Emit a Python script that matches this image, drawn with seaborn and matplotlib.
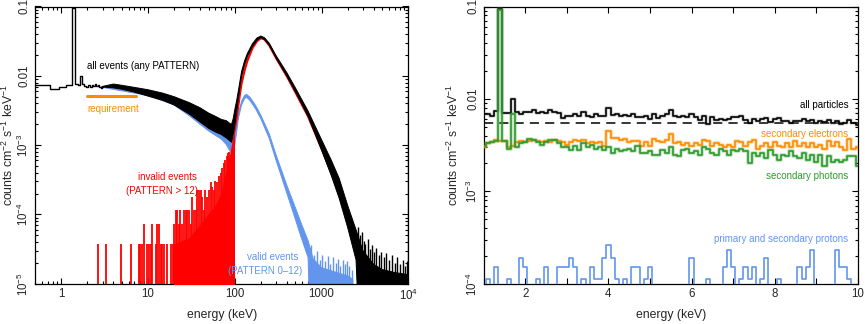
import numpy as np
import matplotlib
matplotlib.use("Agg")
import matplotlib.pyplot as plt
import seaborn as sns
from matplotlib.ticker import FixedLocator, NullFormatter, LogLocator
import matplotlib.patheffects as pe

# ---------------- LEFT PANEL DATA (energy in keV, counts cm^-2 s^-1 keV^-1) ----------
low_e = np.round(np.arange(0.5, 3.05, 0.1), 2)          # 0.1 keV bin centres
low_all = np.array([7.4, 7.4, 7.3, 6.4, 6.4, 6.9, 6.9, 7.3, 7.3, 95.0,
                    7.6, 7.4, 10.0, 7.6, 7.2, 7.0, 7.3, 7.0, 7.4, 7.1,
                    7.6, 7.2, 7.3, 6.8, 6.6, 6.9]) * 1e-3

band_e = [2.95, 4, 5, 7, 10, 15, 20, 30, 40, 50, 60, 70, 80, 88, 92, 96, 100, 105,
          110, 115, 120, 130, 140, 160, 180, 200, 220, 250, 300, 400, 500, 700,
          1000, 1300, 1600, 2000, 2500, 3000, 4000, 5000, 7000, 10000]
all_lo = [6.9e-3, 6.7e-3, 6.4e-3, 5.8e-3, 5.1e-3, 4.4e-3, 3.8e-3, 2.8e-3, 2.15e-3,
          1.75e-3, 1.55e-3, 1.42e-3, 1.27e-3, 1.15e-3, 1.1e-3, 1.4e-3, 1.9e-3, 3.0e-3,
          4.6e-3, 7.0e-3, 9.8e-3, 1.45e-2, 1.9e-2, 2.65e-2, 3.25e-2, 3.55e-2, 3.35e-2,
          2.75e-2, 1.8e-2, 9.8e-3, 5.9e-3, 2.6e-3, 8.5e-4, 3.6e-4, 1.7e-4, 6.5e-5,
          2.2e-5, 0, 0, 0, 0, 0]
all_hi = [7.0e-3, 7.6e-3, 7.3e-3, 6.8e-3, 6.3e-3, 5.6e-3, 5.0e-3, 4.1e-3, 3.45e-3,
          2.9e-3, 2.6e-3, 2.35e-3, 2.25e-3, 2.05e-3, 2.0e-3, 2.4e-3, 3.2e-3, 4.3e-3,
          6.0e-3, 8.4e-3, 1.15e-2, 1.65e-2, 2.1e-2, 2.9e-2, 3.5e-2, 3.75e-2, 3.55e-2,
          2.95e-2, 1.95e-2, 1.1e-2, 6.7e-3, 3.1e-3, 1.2e-3, 6.0e-4, 3.3e-4, 1.35e-4,
          6.0e-5, 3.0e-5, 1.9e-5, 1.6e-5, 1.45e-5, 1.35e-5]
all_tail_e = [2600, 2750, 2900, 3050, 3200, 3400, 3600, 3800, 4000, 4300, 4600,
              4900, 5200, 5600, 6000, 6500, 7000, 7500, 8000, 8600, 9200, 9700]
all_tail_v = [6.5e-5, 5.0e-5, 5.5e-5, 4.2e-5, 3.8e-5, 4.4e-5, 3.2e-5, 3.6e-5, 2.9e-5,
              3.3e-5, 2.6e-5, 2.9e-5, 2.4e-5, 2.8e-5, 2.2e-5, 2.6e-5, 2.0e-5, 2.4e-5,
              1.9e-5, 2.2e-5, 1.8e-5, 2.1e-5]

valid_e = [3, 10, 20, 30, 50, 70, 80, 88, 92, 96, 100, 105, 110, 120, 130, 137,
           150, 175, 200, 250, 300, 400, 500, 600, 700, 800, 1000, 1500, 2000, 2300]
valid_lo = [6.8e-3, 5.2e-3, 3.8e-3, 2.65e-3, 1.6e-3, 1.22e-3, 1.02e-3, 8.2e-4, 7.5e-4,
            8.5e-4, 1.0e-3, 1.5e-3, 2.4e-3, 3.8e-3, 4.7e-3, 4.9e-3, 4.4e-3, 3.3e-3,
            2.4e-3, 1.25e-3, 6.0e-4, 2.0e-4, 8.5e-5, 4.2e-5, 2.4e-5, 0, 0, 0, 0, 0]
valid_hi = [7.0e-3, 5.9e-3, 4.7e-3, 3.8e-3, 2.6e-3, 2.0e-3, 1.85e-3, 1.6e-3, 1.4e-3,
            1.3e-3, 1.4e-3, 1.9e-3, 2.8e-3, 4.3e-3, 5.2e-3, 5.4e-3, 4.9e-3, 3.7e-3,
            2.7e-3, 1.45e-3, 7.2e-4, 2.6e-4, 1.25e-4, 6.8e-5, 4.2e-5, 2.3e-5, 1.7e-5,
            1.45e-5, 1.3e-5, 1.15e-5]
valid_tail_e = [760, 820, 880, 950, 1020, 1100, 1180, 1260, 1350, 1450, 1550, 1650,
                1750, 1850, 1950, 2100, 2250]
valid_tail_v = [3.6e-5, 2.6e-5, 3.0e-5, 2.2e-5, 2.6e-5, 2.1e-5, 2.5e-5, 1.9e-5,
                2.4e-5, 2.0e-5, 2.3e-5, 1.8e-5, 2.2e-5, 1.9e-5, 2.1e-5, 1.8e-5, 1.6e-5]

invalid_spike_e = [2.65, 3.33, 4.84, 6.3, 7.9, 8.2, 8.6, 9.0, 9.8, 10.3, 10.8, 11.2,
                   12.3, 12.8, 13.4, 14.0, 14.6, 15.3, 16.4, 18.3, 19.2, 20.0, 20.9,
                   21.9, 22.8, 23.7, 24.8, 26.0, 27.2, 28.5, 29.7, 31.0, 32.5, 34.0,
                   35.6, 37.1, 38.8, 40.5, 42.0, 44.0, 46.0, 48.0, 50.0, 53.0, 55.0,
                   57.5, 60.0, 63.0, 66.0, 69.0, 72.0, 75.0, 78.0, 81.0, 84.0, 87.0]
invalid_spike_v = [3.7e-5, 3.7e-5, 3.7e-5, 3.7e-5, 3.7e-5, 3.7e-5, 3.7e-5, 7.3e-5,
                   3.7e-5, 3.7e-5, 3.7e-5, 7.3e-5, 3.7e-5, 7.3e-5, 7.3e-5, 3.7e-5,
                   3.7e-5, 3.7e-5, 3.7e-5, 3.7e-5, 3.7e-5, 7.3e-5, 1.16e-4, 1.16e-4,
                   7.3e-5, 1.16e-4, 7.3e-5, 1.16e-4, 1.16e-4, 1.16e-4, 1.16e-4,
                   7.3e-5, 1.8e-4, 1.16e-4, 1.16e-4, 2.25e-4, 2.25e-4, 2.25e-4,
                   1.8e-4, 1.16e-4, 2.25e-4, 1.8e-4, 2.25e-4, 2.9e-4, 2.5e-4, 2.25e-4,
                   3.0e-4, 2.9e-4, 3.6e-4, 4.0e-4, 4.6e-4, 5.5e-4, 6.0e-4, 7.0e-4,
                   7.6e-4, 8.0e-4]
invalid_fill_e = [20, 30, 40, 50, 60, 70, 80, 90, 95, 98]
invalid_fill_v = [3.7e-5, 4.5e-5, 7.0e-5, 1.0e-4, 1.3e-4, 2.0e-4, 4.0e-4, 8.0e-4,
                  1.2e-3, 1.5e-3]
invalid_e = [98, 100, 105, 110, 115, 120, 130, 140, 160, 180, 200, 220, 250, 300,
             400, 500, 700, 1000, 1300, 1600, 2000, 2500, 3000, 3300]
invalid_v = [1.5e-3, 1.7e-3, 2.4e-3, 3.7e-3, 5.6e-3, 7.8e-3, 1.2e-2, 1.65e-2,
             2.5e-2, 3.15e-2, 3.5e-2, 3.35e-2, 2.75e-2, 1.8e-2, 9.8e-3, 5.8e-3,
             2.6e-3, 9.0e-4, 4.0e-4, 2.0e-4, 8.0e-5, 3.0e-5, 1.2e-5, 0]
overflow_e = 9950
overflow_v = 5.5e-3
req_e = [2.0, 7.2]
req_v = 5.1e-3

# ---------------- RIGHT PANEL DATA ----------------
r_e = np.round(np.arange(1.0, 10.05, 0.1), 2)           # 0.1 keV bin centres
all_particles = np.array([
    6.9, 6.9, 6.6, 7.4, 93.0, 7.0, 7.0, 10.0, 7.2, 6.9,
    7.3, 7.2, 7.5, 7.1, 7.2, 7.0, 7.5, 7.3, 7.0, 6.2,
    6.5, 6.6, 6.8, 6.6, 7.3, 6.6, 6.4, 6.8, 6.6, 6.6,
    8.0, 6.7, 6.8, 6.5, 6.7, 6.5, 6.8, 6.3, 6.3, 6.6,
    6.0, 6.8, 6.2, 6.6, 6.9, 7.5, 6.5, 6.3, 6.6, 6.4,
    6.8, 6.3, 5.9, 6.6, 5.4, 6.4, 5.9, 6.1, 5.9, 6.0,
    6.3, 6.3, 6.5, 5.9, 5.5, 6.0, 5.7, 6.1, 6.2, 5.6,
    6.0, 6.2, 5.7, 5.8, 5.5, 5.7, 5.7, 6.0, 5.7, 5.9,
    5.5, 5.7, 5.6, 5.9, 5.5, 5.7, 5.4, 5.5, 5.9, 5.5,
    5.2]) * 1e-3
sec_electrons = np.array([
    3.0, 3.3, 3.4, 3.6, 3.5, 3.5, 3.0, 3.1, 3.4, 3.5,
    3.4, 3.5, 3.6, 3.5, 3.4, 3.5, 3.4, 3.6, 3.5, 3.4,
    3.2, 3.4, 3.6, 3.5, 3.6, 3.3, 3.4, 3.3, 3.4, 3.1,
    4.5, 3.8, 3.8, 3.6, 3.7, 3.4, 3.5, 3.5, 3.1, 3.4,
    3.1, 3.7, 3.5, 3.4, 3.6, 4.2, 3.3, 3.4, 3.2, 3.3,
    3.1, 3.3, 3.2, 3.6, 3.5, 3.1, 3.3, 3.2, 3.0, 3.2,
    3.0, 3.5, 3.4, 3.1, 3.4, 3.6, 2.9, 3.1, 3.3, 3.0,
    3.4, 3.1, 3.0, 3.3, 3.0, 3.5, 3.1, 3.3, 3.0, 3.3,
    3.0, 3.2, 2.9, 3.5, 3.1, 3.4, 3.0, 2.8, 3.7, 2.9,
    3.0]) * 1e-3
sec_photons = np.array([
    3.1, 3.3, 3.4, 3.5, 92.0, 3.5, 2.9, 6.9, 3.0, 3.3,
    3.4, 3.7, 3.6, 3.4, 3.2, 3.4, 3.6, 3.6, 3.3, 3.0,
    3.0, 2.8, 3.1, 2.8, 3.3, 3.0, 3.2, 2.9, 3.0, 2.8,
    3.0, 2.6, 2.9, 2.7, 2.8, 2.9, 2.7, 3.1, 2.6, 2.6,
    2.7, 2.5, 2.5, 2.8, 2.6, 3.0, 2.5, 2.4, 2.8, 2.9,
    2.6, 2.7, 2.5, 3.0, 2.9, 2.6, 2.5, 2.9, 2.7, 2.5,
    2.8, 2.7, 2.9, 2.7, 2.0, 2.6, 2.4, 2.6, 2.3, 2.8,
    2.5, 2.2, 2.5, 2.4, 2.7, 2.4, 2.3, 2.6, 2.2, 2.5,
    2.1, 2.5, 1.9, 2.4, 2.1, 2.2, 2.1, 2.2, 2.4, 2.4,
    1.9]) * 1e-3
protons = np.array([
    0, 1.13, 0, 1.51, 0, 0, 1.13, 0, 0, 1.91,
    1.51, 0, 0, 1.13, 0, 1.51, 0, 0, 1.51, 1.51,
    1.51, 1.91, 1.51, 0, 1.13, 0, 1.51, 1.13, 1.13, 1.91,
    2.63, 1.91, 1.13, 0, 1.13, 0, 1.51, 1.51, 0, 1.13,
    1.51, 0, 0, 0, 0, 0, 0, 0, 0, 0,
    1.91, 0, 0, 0, 1.13, 0, 0, 0, 1.51, 2.29,
    1.51, 0, 1.13, 1.51, 1.13, 1.51, 0, 1.13, 1.91, 0,
    0, 1.13, 0, 0, 0, 0, 1.51, 1.13, 1.51, 2.29,
    0, 0, 0, 0, 0, 2.29, 1.51, 1.51, 1.13, 0,
    0]) * 1e-4
requirement = 5.5e-3

# ---------------- STYLE ----------------
sns.set_style("ticks")
plt.rcParams["font.family"] = ["Liberation Sans", "DejaVu Sans"]
plt.rcParams["mathtext.default"] = "regular"

BLACK, RED, BLUE = "#000000", "#ff0000", "#6495ed"
ORANGE, GREEN = "#ff8c00", "#2e9a2e"
FS_TICK, FS_LAB, FS_ANN = 8.3, 8.8, 7.0

W, H = 865, 324
fig = plt.figure(figsize=(W / 100, H / 100), dpi=100)
axL = fig.add_axes([35 / W, 1 - 283.7 / H, (408.3 - 35) / W, (283.7 - 6.5) / H])
axR = fig.add_axes([483.8 / W, 1 - 283.7 / H, (857.7 - 483.8) / W, (283.7 - 6.5) / H])

FLOOR = 1e-7


def pos(v):
    v = np.asarray(v, dtype=float)
    return np.where(v > 0, v, FLOOR)


# ---------------- LEFT PANEL ----------------
ax = axL
ax.set_xscale("log")
ax.set_yscale("log")
ax.fill_between(valid_e, pos(valid_lo), pos(valid_hi), color=BLUE, lw=0.7,
                edgecolor=BLUE, zorder=2)
ax.vlines(valid_tail_e, FLOOR, valid_tail_v, color=BLUE, lw=1.0, zorder=2)
ax.vlines(invalid_spike_e, FLOOR, invalid_spike_v, color=RED, lw=1.3, zorder=3)
ax.fill_between(invalid_fill_e, FLOOR, invalid_fill_v, color=RED, lw=0.8,
                edgecolor=RED, zorder=3)
sns.lineplot(x=invalid_e, y=pos(invalid_v), color=RED, lw=1.6, ax=ax,
             estimator=None, sort=False, zorder=3)
ax.vlines([overflow_e], FLOOR, [overflow_v], color="#6b2a2a", lw=1.0, zorder=3)
ax.fill_between(band_e, pos(all_lo), pos(all_hi), color=BLACK, lw=0.7,
                edgecolor=BLACK, zorder=4)
ax.vlines(all_tail_e, FLOOR, all_tail_v, color=BLACK, lw=1.0, zorder=4)
sns.lineplot(x=low_e, y=low_all, color=BLACK, lw=1.0, drawstyle="steps-mid",
             ax=ax, estimator=None, sort=False, zorder=5)
sns.lineplot(x=req_e, y=[req_v, req_v], color=ORANGE, lw=2.2, ax=ax,
             estimator=None, sort=False, zorder=6)

ax.set_xlim(0.5, 1e4)
ax.set_ylim(1e-5, 0.1)
ax.xaxis.set_major_locator(FixedLocator([1, 10, 100, 1000, 1e4]))
ax.set_xticklabels(["1", "10", "100", "1000", "$10^4$"])
ax.xaxis.set_minor_locator(LogLocator(base=10, subs=np.arange(2, 10), numticks=20))
ax.xaxis.set_minor_formatter(NullFormatter())
ax.yaxis.set_major_locator(FixedLocator([1e-5, 1e-4, 1e-3, 1e-2, 1e-1]))
ax.set_yticklabels(["$10^{-5}$", "$10^{-4}$", "$10^{-3}$", "0.01", "0.1"],
                   rotation=90, va="center")
ax.yaxis.set_minor_locator(LogLocator(base=10, subs=np.arange(2, 10), numticks=20))
ax.yaxis.set_minor_formatter(NullFormatter())

ax.text(2.0, 0.0138, "all events (any PATTERN)", color=BLACK, fontsize=FS_ANN,
        ha="left", va="center")
ax.text(2.0, 3.3e-3, "requirement", color=ORANGE, fontsize=FS_ANN,
        ha="left", va="center")
ax.text(36.5, 3.5e-4, "invalid events", color=RED, fontsize=FS_ANN,
        ha="right", va="center")
ax.text(37.5, 2.18e-4, "(PATTERN > 12)", color=RED, fontsize=FS_ANN,
        ha="right", va="center")
ax.text(545, 2.45e-5, "valid events", color=BLUE, fontsize=FS_ANN,
        ha="right", va="center")
ax.text(596, 1.54e-5, "(PATTERN 0\u201312)", color=BLUE, fontsize=FS_ANN,
        ha="right", va="center")

# ---------------- RIGHT PANEL ----------------
ax = axR
ax.set_yscale("log")


def halo(c):
    return [pe.Stroke(linewidth=2.6, foreground=c, alpha=0.3), pe.Normal()]


sns.lineplot(x=[1, 10], y=[requirement, requirement], color=BLACK, lw=1.1,
             ax=ax, estimator=None, sort=False, zorder=2)
ax.lines[-1].set_dashes([6, 4])
sns.lineplot(x=r_e, y=all_particles, color=BLACK, lw=1.2, drawstyle="steps-mid",
             ax=ax, estimator=None, sort=False, zorder=3)
ax.lines[-1].set_path_effects(halo("#777777"))
sns.lineplot(x=r_e, y=sec_electrons, color=ORANGE, lw=1.2, drawstyle="steps-mid",
             ax=ax, estimator=None, sort=False, zorder=4)
ax.lines[-1].set_path_effects(halo(ORANGE))
sns.lineplot(x=r_e, y=sec_photons, color=GREEN, lw=1.2, drawstyle="steps-mid",
             ax=ax, estimator=None, sort=False, zorder=5)
ax.lines[-1].set_path_effects(halo(GREEN))
sns.lineplot(x=r_e, y=pos(protons), color=BLUE, lw=1.2, drawstyle="steps-mid",
             ax=ax, estimator=None, sort=False, zorder=6)

ax.set_xlim(1, 10)
ax.set_ylim(1e-4, 0.1)
ax.xaxis.set_major_locator(FixedLocator([2, 4, 6, 8, 10]))
ax.set_xticklabels(["2", "4", "6", "8", "10"])
ax.xaxis.set_minor_locator(FixedLocator([1, 3, 5, 7, 9]))
ax.yaxis.set_major_locator(FixedLocator([1e-4, 1e-3, 1e-2, 1e-1]))
ax.set_yticklabels(["$10^{-4}$", "$10^{-3}$", "0.01", "0.1"], rotation=90, va="center")
ax.yaxis.set_minor_locator(LogLocator(base=10, subs=np.arange(2, 10), numticks=20))
ax.yaxis.set_minor_formatter(NullFormatter())

ax.text(9.77, 8.6e-3, "all particles", color=BLACK, fontsize=FS_ANN, ha="right", va="center")
ax.text(9.77, 4.14e-3, "secondary electrons", color=ORANGE, fontsize=FS_ANN,
        ha="right", va="center")
ax.text(9.77, 1.47e-3, "secondary photons", color=GREEN, fontsize=FS_ANN,
        ha="right", va="center")
ax.text(9.77, 3.05e-4, "primary and secondary protons", color=BLUE, fontsize=FS_ANN,
        ha="right", va="center")

# ---------------- COMMON AXIS STYLING ----------------
for ax, ylx in ((axL, -0.052), (axR, -0.062)):
    ax.tick_params(which="both", direction="in", top=True, right=True, width=0.8,
                   labelsize=FS_TICK, color="black")
    ax.tick_params(which="major", length=4.0)
    ax.tick_params(which="minor", length=2.2)
    ax.tick_params(axis="x", pad=3)
    ax.tick_params(axis="y", pad=3)
    for s in ax.spines.values():
        s.set_linewidth(0.9)
        s.set_color("black")
    ax.set_xlabel("energy (keV)", fontsize=FS_LAB)
    ax.set_ylabel("counts cm$^{-2}$ s$^{-1}$ keV$^{-1}$", fontsize=FS_LAB)
    ax.xaxis.set_label_coords(0.5, -0.093)
    ax.yaxis.set_label_coords(ylx, 0.5)
    ax.grid(False)
axR.tick_params(axis="x", which="minor", length=4.0)

fig.savefig("out.png", dpi=100)
